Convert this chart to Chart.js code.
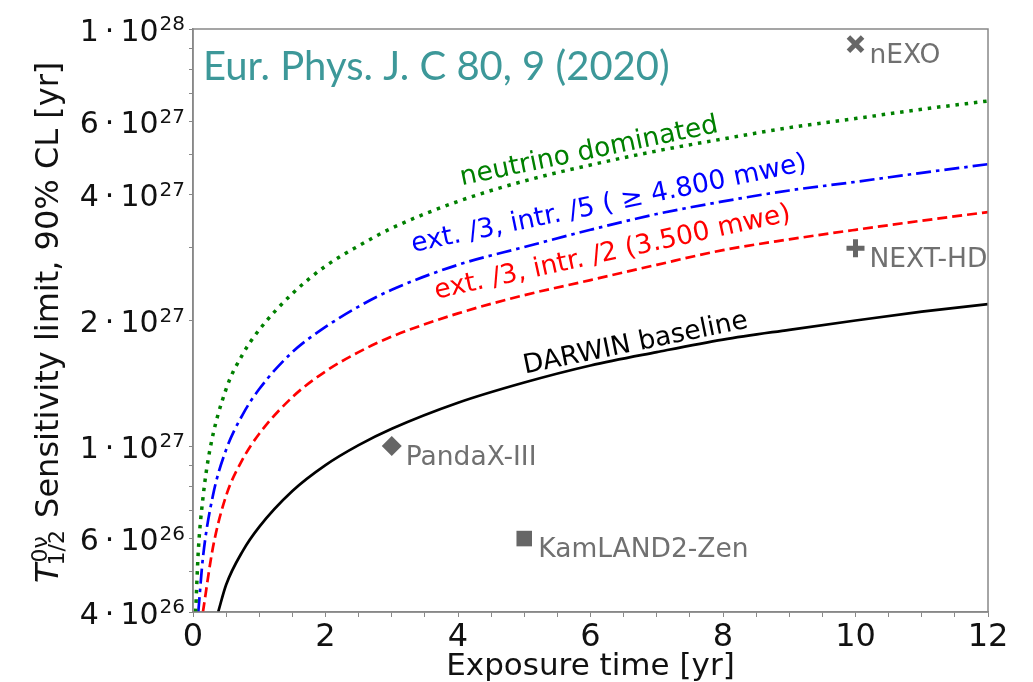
<!DOCTYPE html>
<html>
<head>
<meta charset="utf-8">
<script src="https://cdn.jsdelivr.net/npm/chart.js@4/dist/chart.umd.min.js"></script>
<style>
  html, body { margin: 0; padding: 0; background: #fff; }
</style>
</head>
<body>
<canvas id="c" width="1033" height="682"></canvas>
<script>
// exposure time [yr] and sensitivity [yr]
const darwinX = [0.38, 0.5, 0.75, 1, 1.5, 2, 2.5, 3, 4, 5, 6, 7, 8, 9, 10, 11, 12];
const darwinY = [4.0e26, 4.65e26, 5.6e26, 6.4e26, 7.8e26, 9.0e26, 1.005e27, 1.1e27, 1.27e27, 1.42e27, 1.56e27, 1.68e27, 1.8e27, 1.9e27, 2.0e27, 2.1e27, 2.19e27];

const redX = [0.15, 0.3, 0.5, 0.75, 1, 1.5, 2, 2.5, 3, 4, 5, 6, 7, 8, 9, 10, 11, 12];
const redY = [4.0e26, 5.7e26, 7.6e26, 9.3e26, 1.07e27, 1.31e27, 1.51e27, 1.68e27, 1.83e27, 2.08e27, 2.3e27, 2.5e27, 2.72e27, 2.95e27, 3.13e27, 3.3e27, 3.47e27, 3.64e27];

const blueX = [0.08, 0.15, 0.3, 0.5, 0.75, 1, 1.5, 2, 2.5, 3, 4, 5, 6, 7, 8, 9, 10, 11, 12];
const blueY = [4.0e26, 5.4e26, 7.6e26, 9.8e26, 1.19e27, 1.37e27, 1.68e27, 1.93e27, 2.16e27, 2.37e27, 2.72e27, 3.0e27, 3.3e27, 3.6e27, 3.86e27, 4.1e27, 4.3e27, 4.52e27, 4.74e27];

const greenX = [0.04, 0.08, 0.15, 0.25, 0.5, 0.75, 1, 1.5, 2, 2.5, 3, 4, 5, 6, 7, 8, 9, 10, 11, 12];
const greenY = [4.0e26, 5.6e26, 7.5e26, 9.7e26, 1.37e27, 1.66e27, 1.9e27, 2.32e27, 2.7e27, 3.02e27, 3.33e27, 3.86e27, 4.32e27, 4.72e27, 5.1e27, 5.45e27, 5.8e27, 6.1e27, 6.42e27, 6.72e27];

const expNames = ["nEXO", "NEXT-HD", "PandaX-III", "KamLAND2-Zen"];
const expX = [10, 10, 3, 5];
const expY = [9.2e27, 2.98e27, 1.0e27, 6.0e26];

const yLabelTicks = [4e26, 6e26, 1e27, 2e27, 4e27, 6e27, 1e28];
const yAllTicks = [4e26, 5e26, 6e26, 7e26, 8e26, 9e26, 1e27, 2e27, 3e27, 4e27, 5e27, 6e27, 7e27, 8e27, 9e27, 1e28];

const pts = (xs, ys) => xs.map((x, i) => ({ x: x, y: ys[i] }));

// where the curve names sit (baseline centre, data coords) and their slant
const curveLabels = [
  { text: "neutrino dominated", x: 6.0, y: 4.89e27, angle: -11.7, color: "#008000" },
  { text: "ext. /3, intr. /5 ( \u2265 4.800 mwe)", x: 6.3, y: 3.66e27, angle: -11.7, color: "#0000ff" },
  { text: "ext. /3, intr. /2 (3.500 mwe)", x: 6.355, y: 2.8e27, angle: -12.4, color: "#ff0000" },
  { text: "DARWIN baseline", x: 6.7, y: 1.694e27, angle: -11.6, color: "#000000" }
];

const FONT = '"DejaVu Sans"';

const texts = {
  id: "texts",
  afterDraw(chart) {
    const { ctx, chartArea: a, scales: { x, y } } = chart;
    ctx.save();

    ctx.strokeStyle = "#888";
    ctx.lineWidth = 1.5;
    ctx.strokeRect(a.left, a.top, a.right - a.left, a.bottom - a.top);

    // y tick labels  m·10^e
    ctx.fillStyle = "#111";
    ctx.textAlign = "left";
    ctx.textBaseline = "alphabetic";
    yLabelTicks.forEach(v => {
      const py = y.getPixelForValue(v);
      const e = Math.floor(Math.log10(v) + 1e-9);
      const m = Math.round(v / Math.pow(10, e));
      const main = m + "\u2009\u00b7\u200910";
      ctx.font = "20px " + FONT;
      const supW = ctx.measureText(String(e)).width;
      ctx.font = "30px " + FONT;
      const mainW = ctx.measureText(main).width;
      const right = a.left - 8;
      ctx.fillText(main, right - supW - 1 - mainW, py + 11.5);
      ctx.font = "20px " + FONT;
      ctx.fillText(String(e), right - supW, py + 1);
    });

    // y title
    ctx.save();
    ctx.translate(58, 583);
    ctx.rotate(-Math.PI / 2);
    ctx.font = "italic 32px " + FONT;
    ctx.fillText("T", 0, 0);
    const tw = ctx.measureText("T").width;
    ctx.font = "22px " + FONT;
    ctx.fillText("0\u03bd", tw + 1, -11);
    ctx.fillText("1/2", tw - 2, 6);
    const sw = Math.max(ctx.measureText("0\u03bd").width, ctx.measureText("1/2").width);
    ctx.font = "32px " + FONT;
    ctx.fillText(" Sensitivity limit, 90% CL [yr]", tw + sw, 0);
    ctx.restore();

    // x title
    ctx.font = "31px " + FONT;
    ctx.textAlign = "center";
    ctx.fillText("Exposure time [yr]", (a.left + a.right) / 2, 675);

    // curve names
    ctx.font = "26.5px " + FONT;
    ctx.textBaseline = "alphabetic";
    curveLabels.forEach(l => {
      ctx.save();
      ctx.translate(x.getPixelForValue(l.x), y.getPixelForValue(l.y));
      ctx.rotate(l.angle * Math.PI / 180);
      ctx.fillStyle = l.color;
      ctx.fillText(l.text, 0, 0);
      ctx.restore();
    });

    // experiment names
    ctx.font = "26.5px " + FONT;
    ctx.textAlign = "left";
    ctx.textBaseline = "middle";
    ctx.fillStyle = "#707070";
    expNames.forEach((n, i) => {
      ctx.fillText(n, x.getPixelForValue(expX[i]) + 14, y.getPixelForValue(expY[i]) + 12);
    });

    // journal reference
    ctx.font = "40px Lato";
    ctx.textBaseline = "alphabetic";
    ctx.fillStyle = "#3d9899";
    ctx.fillText("Eur. Phys. J. C 80, 9 (2020)", a.left + 10, 80);

    ctx.restore();
  }
};

new Chart(document.getElementById("c"), {
  type: "line",
  data: {
    datasets: [
      { data: pts(greenX, greenY), borderColor: "#008000", borderWidth: 3.5, borderDash: [3.5, 5.8] },
      { data: pts(blueX, blueY), borderColor: "#0000ff", borderWidth: 2.7, borderDash: [15, 5, 3.5, 5] },
      { data: pts(redX, redY), borderColor: "#ff0000", borderWidth: 2.7, borderDash: [10, 5] },
      { data: pts(darwinX, darwinY), borderColor: "#000000", borderWidth: 2.7 },
      {
        data: pts(expX, expY),
        showLine: false,
        clip: false,
        pointStyle: ["crossRot", "cross", "rectRot", "rect"],
        pointRadius: [10, 9, 10, 11],
        pointBorderWidth: [5, 5, 0, 0],
        pointBorderColor: "#666",
        pointBackgroundColor: "#666"
      }
    ]
  },
  options: {
    responsive: false,
    devicePixelRatio: 1,
    animation: false,
    layout: { padding: { top: 29, right: 45, left: 0, bottom: 0 } },
    datasets: {
      line: { pointRadius: 0, fill: false, cubicInterpolationMode: "monotone" }
    },
    plugins: { legend: { display: false }, tooltip: { enabled: false } },
    scales: {
      x: {
        type: "linear",
        min: 0,
        max: 12,
        afterFit: s => { s.height = 70; },
        ticks: {
          stepSize: 0.5,
          autoSkip: false,
          maxRotation: 0,
          padding: 1,
          color: "#111",
          font: { family: "DejaVu Sans", size: 32 },
          callback: v => (v % 2 === 0 ? String(v) : "")
        },
        grid: { display: true, drawOnChartArea: false, drawTicks: true, tickLength: 5, color: "#888" },
        border: { color: "#888", width: 1.5 }
      },
      y: {
        type: "logarithmic",
        min: 4e26,
        max: 1e28,
        afterBuildTicks: s => { s.ticks = yAllTicks.map(v => ({ value: v })); },
        afterFit: s => { s.width = 193; },
        ticks: { display: false },
        grid: { display: true, drawOnChartArea: false, drawTicks: true, tickLength: 4, color: "#888" },
        border: { color: "#888", width: 1.5 }
      }
    }
  },
  plugins: [texts]
});
</script>
</body>
</html>
